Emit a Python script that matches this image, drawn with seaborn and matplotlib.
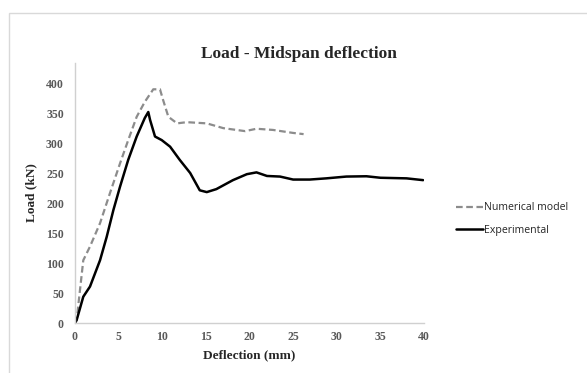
import numpy as np
import pandas as pd
import seaborn as sns
import matplotlib.pyplot as plt
from matplotlib.patches import Rectangle

# Numerical model (dashed grey)
num_x = [0.0, 0.19, 0.95, 1.72, 2.87, 4.0, 5.16, 6.1, 7.07, 8.0, 8.97, 9.74, 10.1, 10.7,
         11.7, 12.8, 15.1, 17.0, 19.5, 20.8, 22.7, 25.0, 26.2]
num_y = [0, 5, 105, 128, 167, 217, 267, 306, 345, 370, 391, 391, 373, 345,
         334, 336, 334, 326, 321, 325, 323, 318, 316]

# Experimental (solid black)
exp_x = [0.0, 0.19, 0.95, 1.72, 2.87, 3.63, 4.4, 5.16, 6.1, 7.07, 8.0, 8.4, 8.6, 9.17,
         9.94, 10.9, 12.0, 13.2, 14.3, 15.1, 16.2, 18.1, 19.7, 20.8, 22.0, 23.5, 25.0,
         26.9, 28.8, 31.1, 33.4, 35.0, 38.0, 39.9]
exp_y = [0, 5, 44, 61, 105, 144, 189, 228, 273, 312, 343, 353, 340, 312,
         306, 295, 273, 251, 222, 219, 224, 239, 249, 252, 246, 245, 240,
         240, 242, 245, 245.5, 243, 242, 239]

x_ticks = [0, 5, 10, 15, 20, 25, 30, 35, 40]
y_ticks = [0, 50, 100, 150, 200, 250, 300, 350, 400]

sns.set_style("white")

px = 1 / 100
fig = plt.figure(figsize=(587 * px, 373 * px), dpi=100)
ax = fig.add_axes([75 / 587, 50 / 373, 349 / 587, 260 / 373])

num_df = pd.DataFrame({"x": num_x, "y": num_y})
exp_df = pd.DataFrame({"x": exp_x, "y": exp_y})

sns.lineplot(data=num_df, x="x", y="y", ax=ax, color="#8c8c8c", lw=1.6,
             linestyle=(0, (3, 1.6)), label="Numerical model", sort=False)
sns.lineplot(data=exp_df, x="x", y="y", ax=ax, color="black", lw=1.8,
             label="Experimental", sort=False)

ax.set_xlim(0, 40)
ax.set_ylim(0, 435)
ax.set_xticks(x_ticks)
ax.set_yticks(y_ticks)

serif = ["Liberation Serif", "DejaVu Serif"]
ax.set_xticklabels([str(t) for t in x_ticks], family=serif, fontweight="bold",
                   fontsize=8.5, color="#595959")
ax.set_yticklabels([str(t) for t in y_ticks], family=serif, fontweight="bold",
                   fontsize=8.5, color="#595959")
ax.tick_params(axis="both", length=0, pad=6)
ax.tick_params(axis="y", pad=8)

ax.set_xlabel("Deflection (mm)", family=serif, fontweight="bold", fontsize=9.5, labelpad=4)
ax.set_ylabel("Load (kN)", family=serif, fontweight="bold", fontsize=9.5, labelpad=6)

for s in ["top", "right"]:
    ax.spines[s].set_visible(False)
ax.spines["left"].set_color("#d0d0d0")
ax.spines["bottom"].set_color("#d0d0d0")
ax.spines["left"].set_linewidth(1.0)
ax.spines["bottom"].set_linewidth(1.0)

fig.text(299 / 587, 1 - 54 / 373, "Load - Midspan deflection", family=serif,
         fontweight="bold", fontsize=12.5, ha="center", va="center")

ax.get_legend().remove()
handles, labels = ax.get_legend_handles_labels()
fig.legend(handles, labels, loc="upper left", bbox_to_anchor=(446 / 587, 1 - 193 / 373),
           frameon=False, handlelength=2.6, handletextpad=0.1, labelspacing=1.05,
           prop={"family": "Open Sans", "size": 7.6})

fig.patches.append(Rectangle((8.5 / 587, -0.1), 1.2, 1 - 12.5 / 373 + 0.1,
                             transform=fig.transFigure, fill=False,
                             edgecolor="#d9d9d9", lw=1.0))

fig.savefig("out.png", dpi=100)
